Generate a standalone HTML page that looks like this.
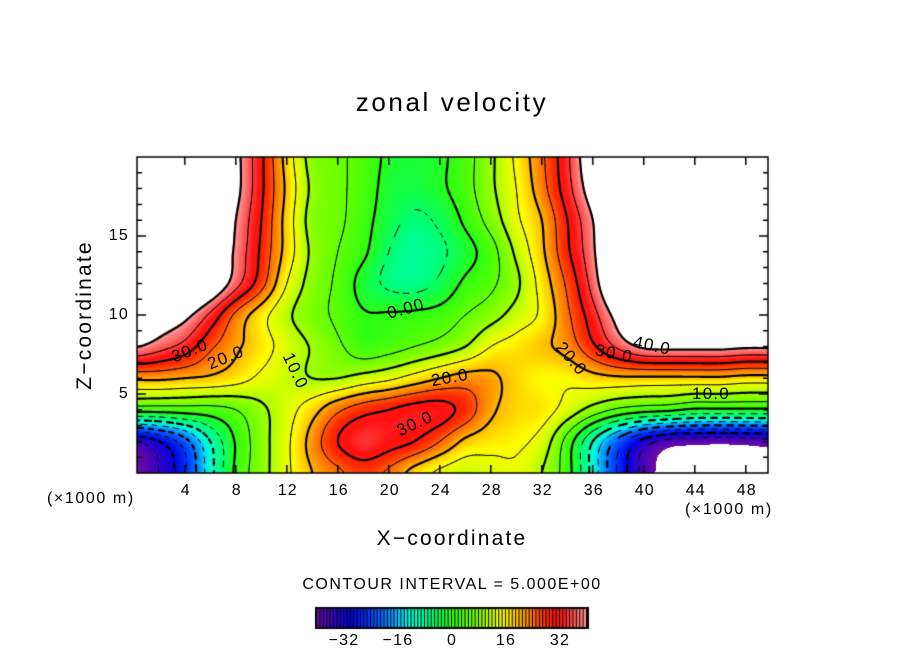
<!DOCTYPE html>
<html><head><meta charset="utf-8"><style>
html,body{margin:0;padding:0;background:#fff;}
#root{position:relative;width:904px;height:654px;overflow:hidden;font-family:"Liberation Sans",sans-serif;color:#000;}
.t{position:absolute;white-space:nowrap;}
</style></head><body>
<div id="root">
<div class="t" style="left:0;width:904px;text-align:center;top:87px;font-size:26px;letter-spacing:2.6px;">zonal velocity</div>
<canvas id="cv" width="904" height="654" style="position:absolute;left:0;top:0;"></canvas>
<div class="t" style="left:85px;top:315px;font-size:21px;transform:translate(-50%,-50%) rotate(-90deg);letter-spacing:2.2px;">Z−coordinate</div>
<div class="t" style="left:0;width:904px;text-align:center;top:527px;font-size:21px;letter-spacing:2.2px;">X−coordinate</div>
<div class="t" style="left:47px;top:490px;font-size:16px;letter-spacing:1.6px;">(×1000 m)</div>
<div class="t" style="left:685px;top:501px;font-size:16px;letter-spacing:1.6px;">(×1000 m)</div>
<div class="t" style="left:0;width:904px;text-align:center;top:576px;font-size:16px;letter-spacing:1.5px;">CONTOUR INTERVAL = 5.000E+00</div>
</div>
<script>
// ---- data ----
const xCoords=[0,2,4,6,8,10,12,14,16,18,20,22,24,26,28,30,32,34,36,38,40,42,44,46,48,50];
const zCoords=[0,2,4,6,8,10,12,14,16,18,20];
const u_z0 =[-41,-35,-26,-12,1,8,14,20,24,27,24,18,14,12,13,14,10,2,-12,-26,-37,-44,-48,-48,-47,-45];
const u_z2 =[-35,-30,-22,-10,0.5,8,14,22,30,34,32,30,25,19,17,16,13,3,-10,-22,-32,-37,-38,-38.5,-38,-37];
const u_z4 =[2,2,2.5,3,5,9,13,18,24,28,30,32,32,28,21,18,17,13,8,4,2,1,-1,-1,-1,-1];
const u_z6 =[21,21,20,19,17,14,12,10,10,12,14,17,20,22,21,18,16,16,18,19,19,19,19,19,18,18];
const u_z8 =[40.5,37,33,26,21,17,13,9.5,6,2,3,5,7,10,15,17,19,22,29,36,41,42,42,42,41,41];
const u_z10=[52,46,42,34,24,17,11,7,4,0.5,0.5,1,2,5,8,12,16,24,33,43,54,60,60,60,60,60];
const u_z12=[60,58,54,47,37,27,15,8,4,-2,-6,-7,-4,1,4,9,17,26,37,50,58,60,60,60,60,60];
const u_z14=[60,60,56,48,39,29,18,9,5,1,-5,-8,-6,-2,3,11,19,29,39,52,60,60,60,60,60,60];
const u_z16=[60,60,57,50,40,30,18,8,6,2,-3,-6,-4,1,7,14,20,30,40,52,60,60,60,60,60,60];
const u_z18=[60,60,58,52,42,31,19,9,6,3,-2,-3,-1,3,9,15,23,33,44,55,60,60,60,60,60,60];
const u_z20=[60,60,58,52,42,31,18,8,6,3,-1,-2,-1,3,9,16,24,34,46,55,60,60,60,60,60,60];
const xTickLabels=["4","8","12","16","20","24","28","32","36","40","44","48"];
const zTickLabels=["5","10","15"];
const cbarTickLabels=["−32","−16","0","16","32"];
const cbarTickValues=[-32,-16,0,16,32];
const contourLevels=[-35,-30,-25,-20,-15,-10,-5,0,5,10,15,20,25,30,35,40];

const rows=[u_z0,u_z2,u_z4,u_z6,u_z8,u_z10,u_z12,u_z14,u_z16,u_z18,u_z20];
// ---- axes ----
const L=137,R=768,T=157,B=473;
const X=x=>L+(x-0.25)*12.75, Xinv=p=>(p-L)/12.75+0.25;
const Y=z=>B-z*15.8, Yinv=p=>(B-p)/15.8;
const CB0=317,CB1=587,CBT=609,CBB=627;
const CX=v=>CB0+(v+40)/80*(CB1-CB0);

function cr(p0,p1,p2,p3,t){return 0.5*((2*p1)+(-p0+p2)*t+(2*p0-5*p1+4*p2-p3)*t*t+(-p0+3*p1-3*p2+p3)*t*t*t);}
function g(i,j){i=Math.max(0,Math.min(rows.length-1,i));j=Math.max(0,Math.min(xCoords.length-1,j));return rows[i][j];}
function field(x,z){
  const dx=xCoords[1]-xCoords[0],dz=zCoords[1]-zCoords[0];
  let gx=(x-xCoords[0])/dx,gz=(z-zCoords[0])/dz;
  gx=Math.max(0,Math.min(xCoords.length-1.0001,gx));gz=Math.max(0,Math.min(zCoords.length-1.0001,gz));
  const j=Math.floor(gx),i=Math.floor(gz),tx=gx-j,tz=gz-i;
  const c=[];
  for(let k=-1;k<=2;k++)c.push(cr(g(i+k,j-1),g(i+k,j),g(i+k,j+1),g(i+k,j+2),tx));
  return cr(c[0],c[1],c[2],c[3],tz);
}
const stops=[[-40,[106,10,160]],[-36,[64,0,192]],[-30,[0,0,224]],[-24,[0,64,255]],[-18,[0,144,255]],[-15,[0,210,255]],[-12,[0,255,210]],[-6,[0,255,120]],[0,[40,255,20]],[6,[110,255,0]],[10,[165,255,0]],[13,[220,255,0]],[16,[255,250,0]],[20,[255,180,0]],[24,[255,112,0]],[28,[255,40,0]],[32,[255,16,16]],[36,[255,80,80]],[40,[255,154,154]]];
function color(v){
  if(v>40.5||v<-40.5)return [255,255,255];
  v=Math.max(-40,Math.min(40,v));
  for(let k=0;k<stops.length-1;k++){const a=stops[k],b=stops[k+1];if(v<=b[0]){const t=(v-a[0])/(b[0]-a[0]);return [0,1,2].map(q=>Math.round(a[1][q]+(b[1][q]-a[1][q])*t));}}
  return stops[stops.length-1][1];
}
const cv=document.getElementById('cv'),ctx=cv.getContext('2d');
// fill
const img=ctx.createImageData(R-L,B-T);
for(let py=0;py<B-T;py++)for(let px=0;px<R-L;px++){
  const v=field(Xinv(L+px+0.5),Yinv(T+py+0.5));const c=color(v);const o=(py*(R-L)+px)*4;
  img.data[o]=c[0];img.data[o+1]=c[1];img.data[o+2]=c[2];img.data[o+3]=255;}
ctx.putImageData(img,L,T);
// contours (marching squares)
const S=2,nx=Math.ceil((R-L)/S),ny=Math.ceil((B-T)/S),F=[];
for(let j=0;j<=ny;j++){F.push([]);for(let i=0;i<=nx;i++)F[j].push(field(Xinv(L+i*S),Yinv(T+j*S)));}
ctx.save();ctx.beginPath();ctx.rect(L,T,R-L,B-T);ctx.clip();ctx.strokeStyle='#000';ctx.lineCap='round';
contourLevels.forEach(lv=>{
  const thick=(lv%10===0);ctx.lineWidth=thick?2.2:0.9;ctx.beginPath();
  for(let j=0;j<ny;j++)for(let i=0;i<nx;i++){
    const a=F[j][i],b=F[j][i+1],c=F[j+1][i+1],d=F[j+1][i];
    const pts=[];
    const e=(v1,v2,x1,y1,x2,y2)=>{if((v1<lv)!==(v2<lv)){const t=(lv-v1)/(v2-v1);pts.push([x1+(x2-x1)*t,y1+(y2-y1)*t]);}};
    const x0=L+i*S,y0=T+j*S;
    e(a,b,x0,y0,x0+S,y0);e(b,c,x0+S,y0,x0+S,y0+S);e(d,c,x0,y0+S,x0+S,y0+S);e(a,d,x0,y0,x0,y0+S);
    if(lv<0&&(Math.floor((x0+y0)/6)%2===1))continue;
    for(let k=0;k+1<pts.length;k+=2){ctx.moveTo(pts[k][0],pts[k][1]);ctx.lineTo(pts[k+1][0],pts[k+1][1]);}
  }
  ctx.stroke();
});
ctx.restore();
// frame & ticks
ctx.strokeStyle='#000';ctx.lineWidth=1.5;ctx.strokeRect(L,T,R-L,B-T);
ctx.lineWidth=1.5;ctx.beginPath();
for(let x=4;x<=48;x+=4){ctx.moveTo(X(x),B);ctx.lineTo(X(x),B-8);ctx.moveTo(X(x),T);ctx.lineTo(X(x),T+8);}
for(let z=1;z<20;z++){const len=(z%5===0)?9:5;ctx.moveTo(L,Y(z));ctx.lineTo(L+len,Y(z));ctx.moveTo(R,Y(z));ctx.lineTo(R-len,Y(z));}
ctx.stroke();
// colorbar
ctx.fillStyle='#000';ctx.fillRect(CB0-2,CBT-2,CB1-CB0+4,CBB-CBT+4);
for(let v=-40;v<40;v++){const c=color(v+0.5);ctx.fillStyle=`rgb(${c[0]},${c[1]},${c[2]})`;ctx.fillRect(CX(v),CBT,(CB1-CB0)/80-1,CBB-CBT);}
// tick labels
const root=document.getElementById('root');
function lab(txt,x,y,name,align,size,rot){
  const d=document.createElement('div');d.className='t';d.textContent=txt;
  
  
  d.style.left=x+'px';d.style.top=y+'px';d.style.fontSize=(size||16)+'px';d.style.letterSpacing='1.2px';
  d.style.transform=(align==='r'?'translate(-100%,-50%)':'translate(-50%,-50%)')+(rot?` rotate(${rot}deg)`:'');
  root.appendChild(d);}
xTickLabels.forEach(t=>lab(t,X(+t)+1,491,'x-tick-label','c'));
zTickLabels.forEach(t=>lab(t,129,Y(+t),'z-tick-label','r'));
cbarTickLabels.forEach((t,k)=>lab(t,CX(cbarTickValues[k]),641,'colorbar-tick-label','c'));
// contour labels
lab('30.0',190,351,'contour-label','c',17,-22);
lab('20.0',226,358,'contour-label','c',17,-22);
lab('10.0',295,371,'contour-label','c',17,65);
lab('0.00',406,309,'contour-label','c',17,-15);
lab('20.0',450,378,'contour-label','c',17,-10);
lab('30.0',415,424,'contour-label','c',17,-25);
lab('20.0',571,359,'contour-label','c',17,50);
lab('30.0',614,354,'contour-label','c',17,12);
lab('40.0',652,346,'contour-label','c',17,12);
lab('10.0',711,394,'contour-label','c',17,0);
</script>
</body></html>
